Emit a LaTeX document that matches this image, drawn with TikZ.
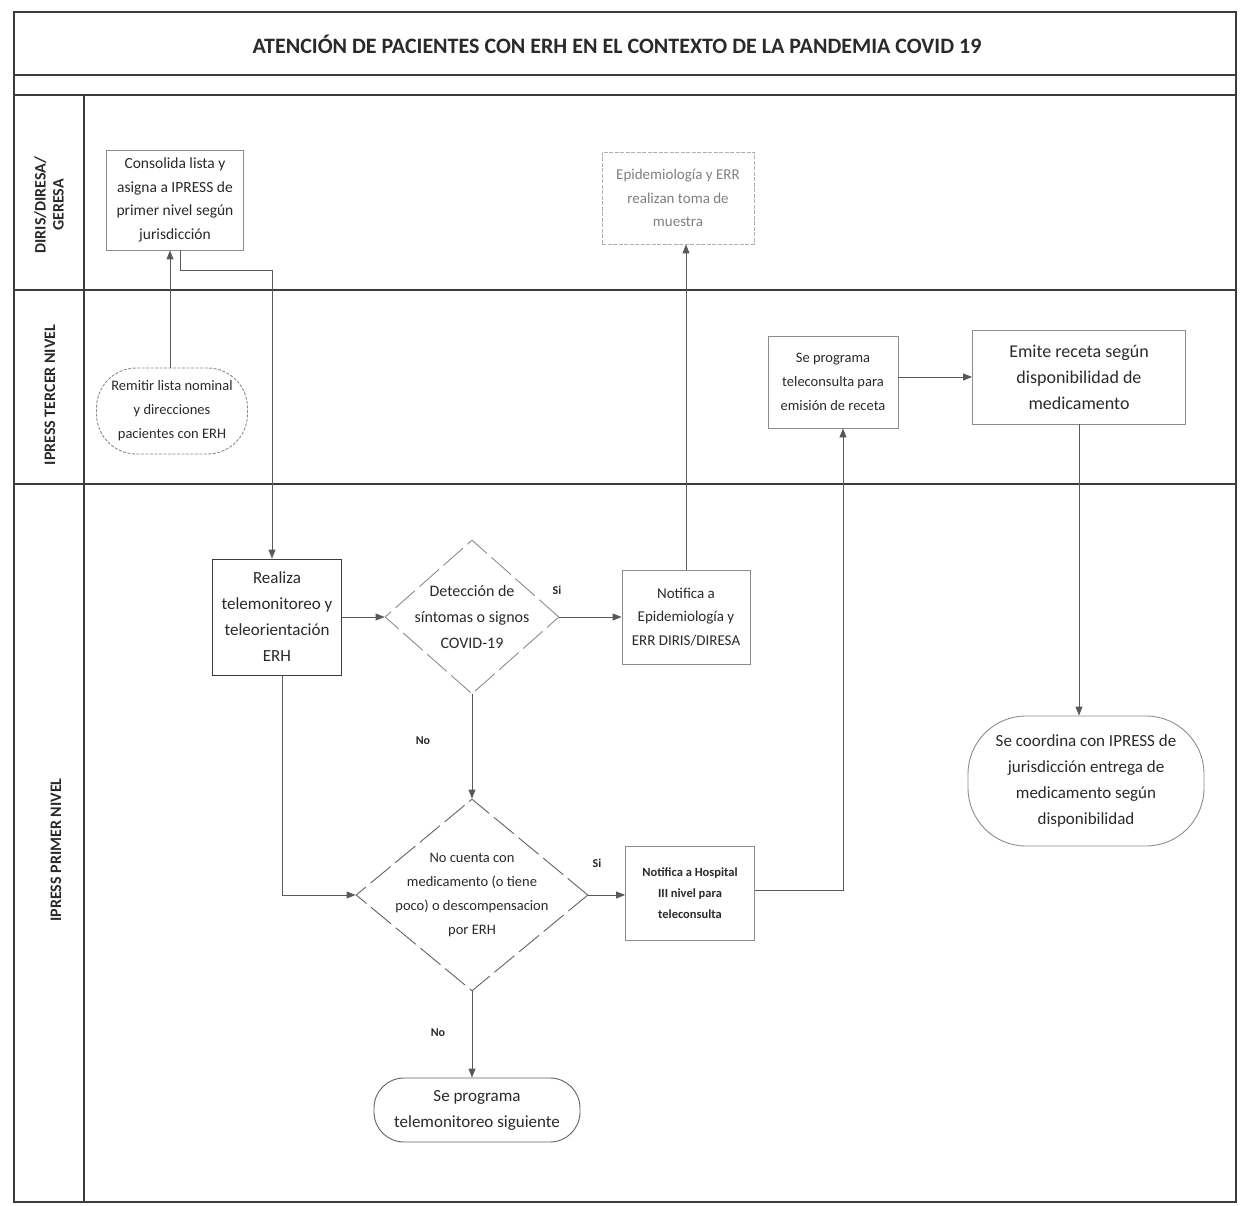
\documentclass[tikz,border=0pt]{standalone}
\usepackage{fontspec}
\setmainfont{Carlito}
\usetikzlibrary{arrows.meta,shapes.geometric}
\definecolor{ink}{HTML}{2A2A2A}
\definecolor{bord}{HTML}{8C8C8C}
\definecolor{lbord}{HTML}{B0B0B0}
\definecolor{frame}{HTML}{3C3C3C}
\tikzset{
  fr/.style={draw=frame, line width=1.6pt},
  box/.style={draw=bord, line width=0.9pt, rectangle, align=center, inner sep=2pt, text=ink},
  pill/.style={box, rounded corners=#1},
  dia/.style={draw=bord, diamond, line width=0.9pt, inner sep=0pt, dash pattern=on 26pt off 6pt},
  txt/.style={align=center, text=ink, inner sep=0pt},
  lane/.style={rotate=90, align=center, font=\fontsize{16}{18}\selectfont\bfseries, text=ink},
  arr/.style={draw=frame!85, line width=0.9pt, -{Triangle[length=9pt,width=7pt]}},
  ln/.style={draw=frame!85, line width=0.9pt},
  yn/.style={font=\fontsize{12}{14}\selectfont\bfseries, text=ink}
}
\begin{document}
\begin{tikzpicture}[x=1pt,y=-1pt]
\useasboundingbox (0,0) rectangle (1248,1206);
\fill[white] (0,0) rectangle (1248,1206);
% frame
\draw[fr] (14,12) rectangle (1236,1202);
\draw[fr] (14,75) -- (1236,75);
\draw[fr] (14,95) -- (1236,95);
\draw[fr] (14,290) -- (1236,290);
\draw[fr] (14,484) -- (1236,484);
\draw[fr] (84,95) -- (84,1202);
\node[txt, font=\fontsize{22}{26}\selectfont\bfseries] (title) at (617,44) {ATENCIÓN DE PACIENTES CON ERH EN EL CONTEXTO DE LA PANDEMIA COVID 19};
% lane labels
\node[lane] (l1) at (49,205) {DIRIS/DIRESA/\\GERESA};
\node[lane] (l2) at (50,395) {IPRESS TERCER NIVEL};
\node[lane] (l3) at (56,850) {IPRESS PRIMER NIVEL};
% nodes
\node[box, minimum width=137pt, minimum height=100pt, font=\fontsize{15.5}{23.5}\selectfont] (cons) at (175,200) {Consolida lista y\\asigna a IPRESS de\\primer nivel según\\jurisdicción};
\node[box, draw=lbord, dash pattern=on 4pt off 1.5pt, minimum width=152pt, minimum height=92pt, text=gray, font=\fontsize{15}{23.5}\selectfont] (epi) at (678,198) {Epidemiología y ERR\\realizan toma de\\muestra};
\node[pill=40pt, dash pattern=on 3pt off 1.5pt, minimum width=151pt, minimum height=86pt, font=\fontsize{14.5}{24}\selectfont] (rem) at (172,411) {Remitir lista nominal\\y direcciones\\pacientes con ERH};
\node[box, minimum width=130pt, minimum height=92pt, font=\fontsize{14.5}{24}\selectfont] (tele) at (833,382) {Se programa\\teleconsulta para\\emisión de receta};
\node[box, minimum width=213pt, minimum height=94pt, font=\fontsize{18}{26}\selectfont] (emi) at (1079,377) {Emite receta según\\disponibilidad de\\medicamento};
\node[box, draw=frame, minimum width=129pt, minimum height=116pt, font=\fontsize{17}{26}\selectfont] (real) at (277,617) {Realiza\\telemonitoreo y\\teleorientación\\ERH};
\node[dia, minimum width=174pt, minimum height=154pt] (det) at (472,617) {};
\node[txt, font=\fontsize{16}{26}\selectfont] (dett) at (det.center) {Detección de\\síntomas o signos\\COVID-19};
\node[box, minimum width=128pt, minimum height=94pt, font=\fontsize{15}{23.5}\selectfont] (nepi) at (686,617) {Notifica a\\Epidemiología y\\ERR DIRIS/DIRESA};
\node[pill=58pt, minimum width=236pt, minimum height=130pt, font=\fontsize{17}{26}\selectfont] (coord) at (1086,781) {Se coordina con IPRESS de\\jurisdicción entrega de\\medicamento según\\disponibilidad};
\node[dia, draw=frame!80, minimum width=232pt, minimum height=192pt] (nocu) at (472,895) {};
\node[txt, font=\fontsize{14.5}{24}\selectfont] (nocut) at (nocu.center) {No cuenta con\\medicamento (o tiene\\poco) o descompensacion\\por ERH};
\node[box, minimum width=129pt, minimum height=94pt, font=\fontsize{12.5}{21}\selectfont\bfseries] (nhos) at (690,893) {Notifica a Hospital\\III nivel para\\teleconsulta};
\node[pill=30pt, draw=frame!80, minimum width=206pt, minimum height=64pt, font=\fontsize{17}{26}\selectfont] (sig) at (477,1110) {Se programa\\telemonitoreo siguiente};
% connectors
\coordinate (c0) at (170,300);
\draw[arr] (rem.north -| c0) -- (cons.south -| c0);
\coordinate (c1) at (180,270);
\coordinate (c2) at (272,270);
\draw[arr] (cons.south -| c1) -- (c1) -- (c2) -- (real.north -| c2);
\draw[arr] (real.east) -- (det.west);
\draw[arr] (det.east) -- (nepi.west);
\node[yn] (si1) at (557,590) {Si};
\draw[arr] (nepi.north) -- (nepi.north |- epi.south);
\draw[arr] (det.south) -- (nocu.north);
\node[yn] (no1) at (423,741) {No};
\coordinate (c3) at (282,895);
\draw[arr] (real.south -| c3) -- (c3) -- (nocu.west);
\draw[arr] (nocu.east) -- (nocu.east -| nhos.west);
\node[yn] (si2) at (597,863) {Si};
\coordinate (c4) at (843,890);
\draw[arr] (nhos.east |- c4) -- (c4) -- (c4 |- tele.south);
\draw[arr] (tele.east |- emi.west) -- (emi.west);
\draw[arr] (emi.south) -- (coord.north -| emi.south);
\draw[arr] (nocu.south) -- (sig.north -| nocu.south);
\node[yn] (no2) at (438,1033) {No};
\end{tikzpicture}
\end{document}
